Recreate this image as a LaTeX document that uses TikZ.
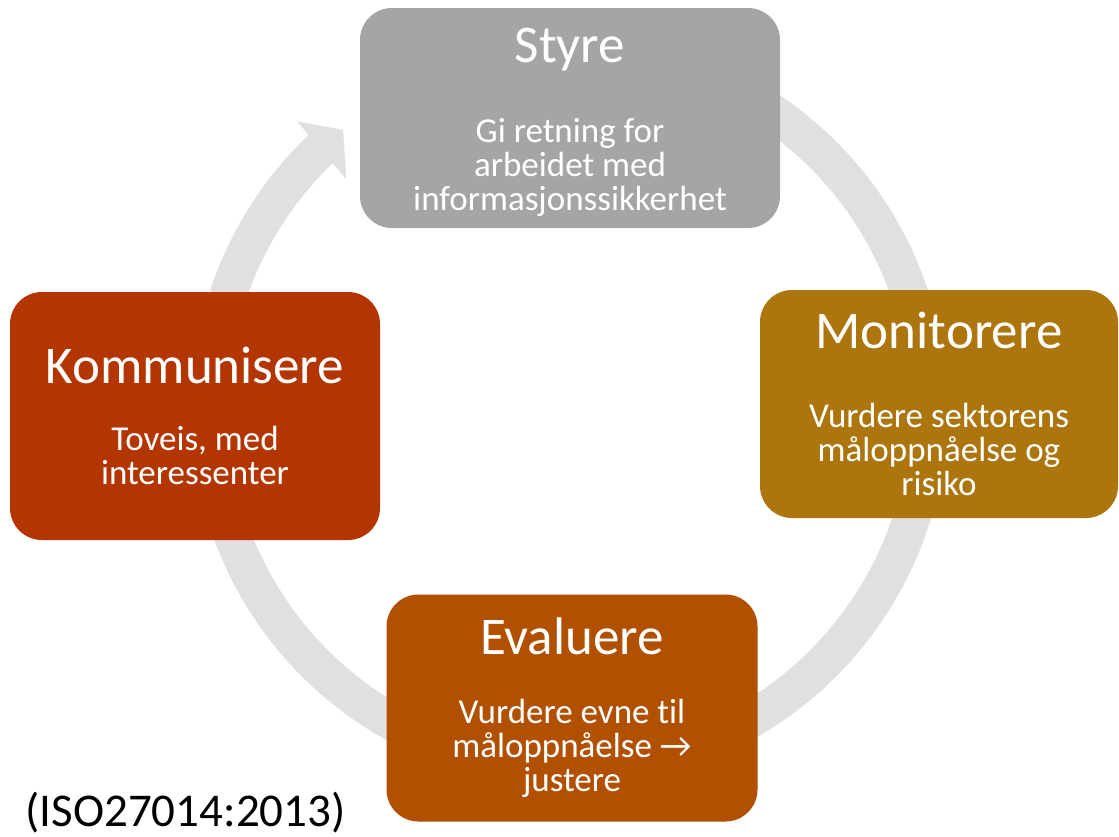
\documentclass[tikz,border=0pt]{standalone}
\usepackage{fontspec}
\setmainfont{Carlito}[Ligatures={NoCommon,NoContextual}]
\usepackage{xcolor}
\definecolor{ringgray}{RGB}{224,224,224}
\definecolor{styregray}{RGB}{165,165,165}
\definecolor{monitorgold}{RGB}{172,117,14}
\definecolor{evalorange}{RGB}{176,80,0}
\definecolor{kommred}{RGB}{179,53,0}
\newcommand{\headfont}{\fontsize{53}{60}\selectfont}
\newcommand{\bodyfont}{\fontsize{35}{34}\selectfont\lineskiplimit=-100pt}
\tikzset{
    stage/.style={rounded corners=32pt,text=white,align=center,inner sep=0pt,font=\bodyfont},
    ring/.style={draw=ringgray,line width=37pt},
}

\begin{document}
\begin{tikzpicture}[x=1pt,y=1pt]
            \useasboundingbox(0,0)rectangle(1119,-836);
            \coordinate(centre)at(569,-409);

            \draw[ring](centre)++(100:359.5)arc[start angle=100,end angle=-226.6,radius=359.5];
            \fill[ringgray]([shift={(133.4:396)}]centre)--([shift={(129:359)}]centre)--([shift={(134.1:320)}]centre)--cycle;

            \node[stage,fill=styregray,minimum width=420,minimum height=220](styre)at(570,-118){{\headfont\rule{0pt}{43pt}Styre}\\[46pt]Gi retning for\\arbeidet med\\informasjonssikkerhet};
            \node[stage,fill=monitorgold,minimum width=358,minimum height=228](monitorere)at(939,-404){{\headfont Monitorere}\\[45pt]Vurdere sektorens\\måloppnåelse og\\risiko};
            \node[stage,fill=evalorange,minimum width=371,minimum height=227](evaluere)at(572,-708){{\headfont Evaluere}\\[35pt]Vurdere evne til\\måloppnåelse →\\justere};
            \node[stage,fill=kommred,minimum width=370,minimum height=248](kommunisere)at(195,-416){{\headfont Kommunisere}\\[33pt]Toveis, med\\interessenter};

            \node[anchor=base west,font=\fontsize{47}{56}\selectfont](kilde)at(22,-826){(ISO27014:2013)};
\end{tikzpicture}
\end{document}
